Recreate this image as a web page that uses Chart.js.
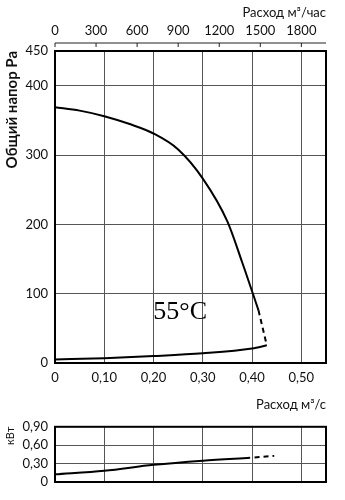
<!DOCTYPE html>
<html lang="ru">
<head>
  <meta charset="UTF-8" />
  <title>Характеристика вентилятора</title>
  <script src="https://cdn.jsdelivr.net/npm/chart.js"></script>
  <style>
    body { margin: 0; background: #fff; }
    .wrap { position: relative; width: 345px; height: 500px; }
    #pressureChart { position: absolute; left: 0; top: 0; }
    #powerChart { position: absolute; left: 0; top: 412px; }
  </style>
</head>
<body>
  <div class="wrap">
    <canvas id="pressureChart" width="345" height="415"></canvas>
    <canvas id="powerChart" width="345" height="88"></canvas>
  </div>

  <script>
    // Расход, м³/с
    const flowMax = 0.55;
    const flowTicks = [0, 0.1, 0.2, 0.3, 0.4, 0.5];
    const hourTicks = [0, 300, 600, 900, 1200, 1500, 1800];
    const powerTicks = [0, 0.3, 0.6, 0.9];

    // Напор вентилятора (сплошная + пунктир)
    const pressureFlow = [0, 0.05, 0.1, 0.15, 0.2, 0.25, 0.3, 0.35, 0.38, 0.413];
    const pressureValues = [369, 364, 356, 345, 331, 308, 266, 204, 145, 76];
    const pressureDashFlow = [0.413, 0.429];
    const pressureDashValues = [76, 28];

    // Нижняя кривая на графике напора
    const lowFlow = [0, 0.1, 0.2, 0.3, 0.4, 0.43];
    const lowValues = [5, 7, 10, 14, 21, 25.5];

    // Мощность, кВт
    const powerFlow = [0, 0.1, 0.2, 0.3, 0.396];
    const powerValues = [0.125, 0.183, 0.28, 0.348, 0.396];
    const powerDashFlow = [0.405, 0.445];
    const powerDashValues = [0.40, 0.426];

    const toPts = (xs, ys) => xs.map((x, i) => ({ x: x, y: ys[i] }));
    const fmtComma = v => v === 0 ? "0" : v.toFixed(2).replace(".", ",");

    Chart.defaults.font.family = "Lato, 'Open Sans', sans-serif";
    Chart.defaults.font.size = 13;
    Chart.defaults.color = "#111";

    const gridStyle = { color: "#555", lineWidth: 1, drawTicks: false };

    // рамка вокруг области графика
    const framePlugin = {
      id: "frame",
      afterDraw(chart) {
        const { ctx, chartArea: a } = chart;
        ctx.save();
        ctx.strokeStyle = "#000";
        ctx.lineWidth = 2;
        ctx.strokeRect(a.left, a.top, a.right - a.left, a.bottom - a.top);
        ctx.restore();
      }
    };

    // верхняя шкала м³/час: линия с засечками вниз
    const topAxisPlugin = {
      id: "topAxis",
      afterDraw(chart) {
        const s = chart.scales.x2;
        const ctx = chart.ctx;
        const y = s.bottom - 8;
        ctx.save();
        ctx.strokeStyle = "#222";
        ctx.lineWidth = 1;
        ctx.beginPath();
        ctx.moveTo(s.left, y);
        ctx.lineTo(s.right, y);
        hourTicks.forEach(v => {
          const x = s.getPixelForValue(v);
          ctx.moveTo(x, y);
          ctx.lineTo(x, y + 4);
        });
        ctx.stroke();
        ctx.restore();
      }
    };

    const tempLabelPlugin = {
      id: "tempLabel",
      afterDatasetsDraw(chart) {
        const ctx = chart.ctx;
        const x = chart.scales.x.getPixelForValue(0.254);
        const y = chart.scales.y.getPixelForValue(74);
        ctx.save();
        ctx.font = "26px 'Liberation Serif', serif";
        ctx.fillStyle = "#000";
        ctx.textAlign = "center";
        ctx.textBaseline = "middle";
        ctx.fillText("55°C", x, y);
        ctx.restore();
      }
    };

    const line = (data, dash) => ({
      data: data,
      borderColor: "#000",
      borderWidth: 2,
      borderDash: dash || [],
      pointRadius: 0,
      fill: false,
      cubicInterpolationMode: "monotone"
    });

    new Chart(document.getElementById("pressureChart"), {
      type: "line",
      data: {
        datasets: [
          line(toPts(pressureFlow, pressureValues)),
          line(toPts(pressureDashFlow, pressureDashValues), [5, 4]),
          line(toPts(lowFlow, lowValues))
        ]
      },
      options: {
        responsive: false,
        animation: false,
        layout: { padding: { right: 19 } },
        plugins: { legend: { display: false }, tooltip: { enabled: false } },
        scales: {
          x: {
            type: "linear",
            min: 0,
            max: flowMax,
            border: { display: false },
            grid: gridStyle,
            afterBuildTicks: s => { s.ticks = flowTicks.concat([flowMax]).map(v => ({ value: v })); },
            ticks: {
              padding: 7,
              maxRotation: 0,
              autoSkip: false,
              callback: v => flowTicks.includes(v) ? fmtComma(v) : ""
            },
            title: {
              display: true,
              text: "Расход м³/с",
              align: "end",
              padding: { bottom: 2 },
              font: { size: 13 }
            },
            afterFit: s => { s.height = 52; }
          },
          x2: {
            type: "linear",
            position: "top",
            min: 0,
            max: flowMax * 3600,
            border: { display: false },
            grid: { display: false, drawTicks: true, tickLength: 8 },
            afterBuildTicks: s => { s.ticks = hourTicks.map(v => ({ value: v })); },
            ticks: { padding: 4, maxRotation: 0, autoSkip: false, callback: v => String(v) },
            title: {
              display: true,
              text: "Расход м³/час",
              align: "end",
              padding: { top: 5 },
              font: { size: 13 }
            },
            afterFit: s => { s.height = 51; }
          },
          y: {
            min: 0,
            max: 450,
            border: { display: false },
            grid: gridStyle,
            ticks: { stepSize: 100, padding: 7, autoSkip: false },
            title: {
              display: true,
              text: "Общий напор Ра",
              align: "end",
              padding: { top: 3 },
              font: { size: 15, weight: "bold" }
            },
            afterFit: s => { s.width = 55; }
          }
        }
      },
      plugins: [framePlugin, topAxisPlugin, tempLabelPlugin]
    });

    new Chart(document.getElementById("powerChart"), {
      type: "line",
      data: {
        datasets: [
          line(toPts(powerFlow, powerValues)),
          line(toPts(powerDashFlow, powerDashValues), [5, 4])
        ]
      },
      options: {
        responsive: false,
        animation: false,
        layout: { padding: { top: 7.5, right: 19 } },
        plugins: { legend: { display: false }, tooltip: { enabled: false } },
        scales: {
          x: {
            type: "linear",
            min: 0,
            max: flowMax,
            border: { display: false },
            grid: gridStyle,
            afterBuildTicks: s => { s.ticks = flowTicks.concat([flowMax]).map(v => ({ value: v })); },
            ticks: { display: false },
            afterFit: s => { s.height = 18; }
          },
          y: {
            min: 0,
            max: 0.9,
            border: { display: false },
            grid: gridStyle,
            afterBuildTicks: s => { s.ticks = powerTicks.map(v => ({ value: v })); },
            ticks: { padding: 7, autoSkip: false, callback: v => fmtComma(v) },
            title: {
              display: true,
              text: "кВт",
              align: "end",
              padding: { top: 4 },
              font: { size: 11 }
            },
            afterFit: s => { s.width = 55; }
          }
        }
      },
      plugins: [framePlugin]
    });
  </script>
</body>
</html>
